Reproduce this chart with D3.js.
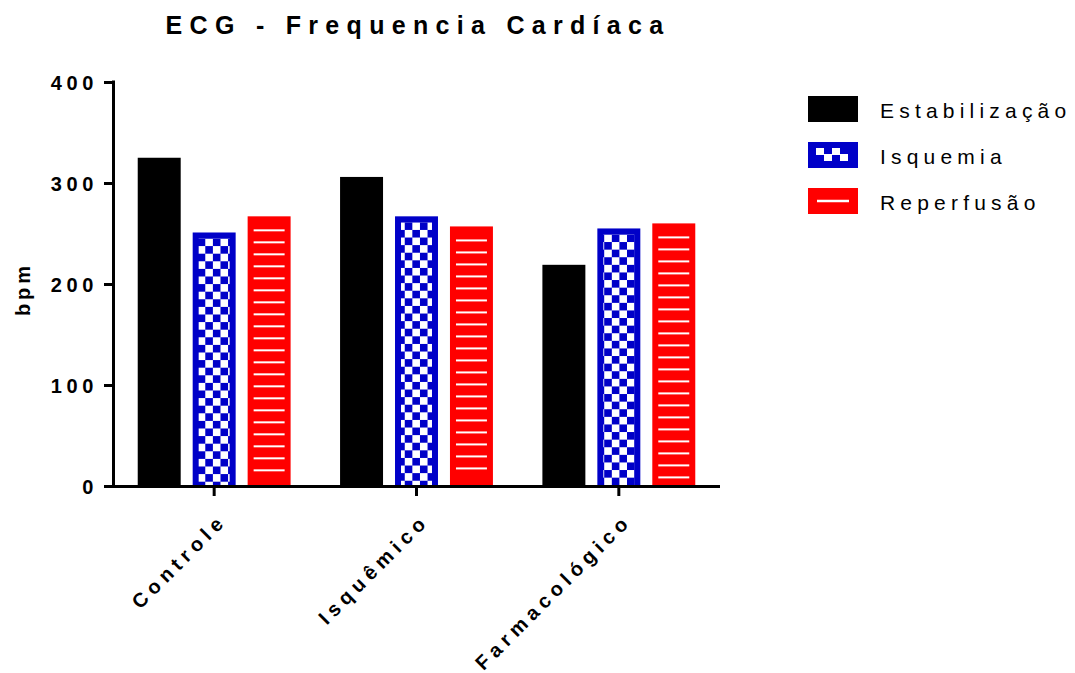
<!DOCTYPE html>
<html>
<head>
<meta charset="utf-8">
<script src="https://cdn.jsdelivr.net/npm/d3@7"></script>
<style>
  html, body { margin: 0; padding: 0; background: #fff; }
  svg { display: block; font-family: "Liberation Sans", Arial, Helvetica, sans-serif; }
</style>
</head>
<body>
<svg id="chart" width="1075" height="673"></svg>
<script>
// Groups on the x axis and the three measurement phases
const categories = ["Controle", "Isquêmico", "Farmacológico"];
const seriesNames = ["Estabilização", "Isquemia", "Reperfusão"];

// Heart rate (bpm) per group, one array per phase
const estabilizacao = [325, 306, 219];
const isquemia = [251, 267, 255];
const reperfusao = [267, 257, 260];

const yTicks = [0, 100, 200, 300, 400];

const seriesValues = [estabilizacao, isquemia, reperfusao];
const rows = categories.map((c, i) => ({
  category: c,
  values: seriesNames.map((s, j) => ({ series: s, idx: j, value: seriesValues[j][i] }))
}));

const BLUE = "#0000c8";
const RED = "#ff0000";

const svg = d3.select("#chart");
const defs = svg.append("defs");

const plot = { left: 113, right: 720, top: 82, bottom: 486 };

const x0 = d3.scaleBand().domain(categories).range([plot.left, plot.right]).paddingInner(0).paddingOuter(0);
const x1 = d3.scaleBand().domain(seriesNames).range([0, x0.bandwidth()]).paddingInner(0.218).paddingOuter(0.45);
const y = d3.scaleLinear().domain([0, 400]).range([plot.bottom, plot.top]);

// Title
svg.append("text")
  .attr("x", 418).attr("y", 34)
  .attr("text-anchor", "middle")
  .attr("font-size", 25).attr("font-weight", "bold")
  .attr("letter-spacing", 7.3)
  .text("ECG - Frequencia Cardíaca");

// Bars
const groups = svg.append("g").selectAll("g")
  .data(rows).join("g")
  .attr("transform", d => `translate(${x0(d.category)},0)`);

const inset = 6;
groups.each(function (row, gi) {
  const g = d3.select(this);
  row.values.forEach(v => {
    const bx = x1(v.series);
    const bw = x1.bandwidth();
    const top = y(v.value);
    const h = plot.bottom - top;
    if (v.idx === 0) {
      g.append("rect").attr("x", bx).attr("y", top).attr("width", bw).attr("height", h).attr("fill", "#000");
    } else if (v.idx === 1) {
      g.append("rect").attr("x", bx).attr("y", top).attr("width", bw).attr("height", h).attr("fill", BLUE);
      const ox = x0(row.category) + bx + inset;
      const oy = top + inset;
      const id = `chk${gi}`;
      const cell = 7.6;
      const p = defs.append("pattern").attr("id", id)
        .attr("patternUnits", "userSpaceOnUse")
        .attr("x", ox).attr("y", oy)
        .attr("width", cell * 2).attr("height", cell * 2);
      p.append("rect").attr("x", 0).attr("y", 0).attr("width", cell * 2).attr("height", cell * 2).attr("fill", BLUE);
      p.append("rect").attr("x", 0).attr("y", 0).attr("width", cell).attr("height", cell).attr("fill", "#fff");
      p.append("rect").attr("x", cell).attr("y", cell).attr("width", cell).attr("height", cell).attr("fill", "#fff");
      g.append("rect").attr("x", bx + inset).attr("y", top + inset)
        .attr("width", bw - inset * 2).attr("height", Math.max(0, h - inset))
        .attr("fill", `url(#${id})`);
    } else {
      g.append("rect").attr("x", bx).attr("y", top).attr("width", bw).attr("height", h).attr("fill", RED);
      const lines = d3.range(top + 14, plot.bottom - 8, 12);
      g.selectAll(null).data(lines).join("line")
        .attr("x1", bx + inset).attr("x2", bx + bw - inset)
        .attr("y1", d => d).attr("y2", d => d)
        .attr("stroke", "#fff").attr("stroke-width", 2);
    }
  });
});

// Y axis
const yAxis = d3.axisLeft(y).tickValues(yTicks).tickSize(9).tickPadding(8).tickSizeOuter(0);
const yG = svg.append("g").attr("transform", `translate(${plot.left},0)`).call(yAxis);
yG.select(".domain").attr("stroke", "#000").attr("stroke-width", 3)
  .attr("d", `M0.5,${plot.top - 1.5}V${plot.bottom + 1.5}`);
yG.selectAll(".tick line").attr("stroke", "#000").attr("stroke-width", 3);
yG.selectAll(".tick text")
  .attr("font-size", 20).attr("font-weight", "bold")
  .attr("font-family", "'Liberation Sans', Arial, sans-serif")
  .attr("fill", "#000").attr("letter-spacing", 4.6)
  .attr("dx", 2).attr("dy", "0.36em");

// X axis
const xAxis = d3.axisBottom(x0).tickSize(10).tickSizeOuter(0).tickFormat("");
const xG = svg.append("g").attr("transform", `translate(0,${plot.bottom})`).call(xAxis);
xG.select(".domain").attr("stroke", "#000").attr("stroke-width", 3)
  .attr("d", `M${plot.left - 1},0.5H${plot.right}`);
xG.selectAll(".tick line").attr("stroke", "#000").attr("stroke-width", 3);

// Rotated category labels
svg.append("g").selectAll("text")
  .data(categories).join("text")
  .attr("transform", d => `translate(${x0(d) + x0.bandwidth() / 2 + 14},${plot.bottom + 36}) rotate(-45)`)
  .attr("text-anchor", "end")
  .attr("font-size", 20).attr("font-weight", "bold")
  .attr("letter-spacing", 5.3)
  .text(d => d);

// Y axis title
svg.append("text")
  .attr("transform", `translate(30,289) rotate(-90)`)
  .attr("text-anchor", "middle")
  .attr("font-size", 20).attr("font-weight", "bold")
  .attr("letter-spacing", 4)
  .text("bpm");

// Legend
const legend = svg.append("g").attr("transform", "translate(808,96)");
const items = legend.selectAll("g").data(seriesNames).join("g")
  .attr("transform", (d, i) => `translate(0,${i * 46})`);

items.each(function (name, i) {
  const g = d3.select(this);
  const fill = i === 0 ? "#000" : i === 1 ? BLUE : RED;
  g.append("rect").attr("width", 50).attr("height", 26).attr("fill", fill);
  if (i === 1) {
    const cells = [[8, 6], [24, 6], [32, 12], [16, 12]];
    g.selectAll(null).data(cells).join("rect")
      .attr("x", d => d[0]).attr("y", d => d[1])
      .attr("width", 8).attr("height", 7).attr("fill", "#fff");
  }
  if (i === 2) {
    g.append("line").attr("x1", 9).attr("x2", 41).attr("y1", 13).attr("y2", 13)
      .attr("stroke", "#fff").attr("stroke-width", 2.5);
  }
  g.append("text")
    .attr("x", 72).attr("y", 22)
    .attr("font-size", 21)
    .attr("letter-spacing", 5.2)
    .text(name);
});
</script>
</body>
</html>
